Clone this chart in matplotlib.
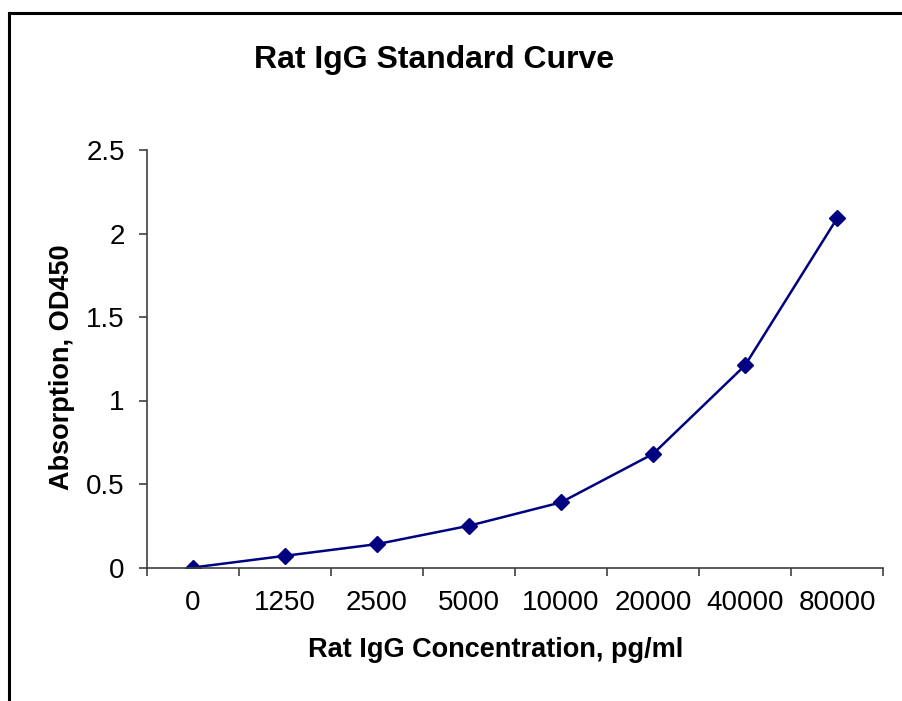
import numpy as np
import matplotlib.pyplot as plt
from matplotlib.lines import Line2D

plt.rcParams['font.family'] = ['Liberation Sans', 'DejaVu Sans']

# standard curve data
concentrations = ['0', '1250', '2500', '5000', '10000', '20000', '40000', '80000']
absorption = [0.0, 0.07, 0.14, 0.25, 0.39, 0.68, 1.21, 2.09]
y_ticks = [0, 0.5, 1, 1.5, 2, 2.5]
y_tick_labels = ['0', '0.5', '1', '1.5', '2', '2.5']

W, H = 902, 701
fig = plt.figure(figsize=(W / 100, H / 100), dpi=100)

# partial frame around the chart (left and top edges)
fig.add_artist(Line2D([9 / W, 1.0], [1 - 13 / H, 1 - 13 / H], color='black', lw=2.2))
fig.add_artist(Line2D([9 / W, 9 / W], [1 - 13 / H, 0.0], color='black', lw=2.2))

ax = fig.add_axes([147 / W, 1 - 567.5 / H, (883 - 147) / W, (567.5 - 150) / H])

x = np.arange(len(concentrations))
ax.plot(x, absorption, color='#000080', lw=1.8, marker='D', markersize=8,
        markerfacecolor='#000080', markeredgecolor='#000080')

ax.set_xlim(-0.5, len(concentrations) - 0.5)
ax.set_ylim(0, 2.5)

ax.set_yticks(y_ticks)
ax.set_yticklabels(y_tick_labels, fontsize=20)

# ticks between categories, labels at category centres
ax.set_xticks(np.arange(-0.5, len(concentrations), 1.0))
ax.set_xticklabels([])
ax.set_xticks(x, minor=True)
ax.set_xticklabels(concentrations, minor=True, fontsize=20)
ax.tick_params(axis='x', which='minor', length=0, pad=16)
ax.tick_params(axis='x', which='major', length=6, width=1.2, color='#404040', direction='out')
ax.tick_params(axis='y', length=6, width=1.2, color='#404040', direction='out', pad=10)

for s in ['top', 'right']:
    ax.spines[s].set_visible(False)
for s in ['left', 'bottom']:
    ax.spines[s].set_color('#404040')
    ax.spines[s].set_linewidth(1.2)

fig.text(434 / W, 1 - 60 / H, 'Rat IgG Standard Curve', fontsize=23, fontweight='bold',
         ha='center', va='center')
fig.text(496 / W, 1 - 650 / H, 'Rat IgG Concentration, pg/ml', fontsize=19.5, fontweight='bold',
         ha='center', va='center')
fig.text(62 / W, 1 - 367 / H, 'Absorption, OD450', fontsize=19.5, fontweight='bold',
         ha='center', va='center', rotation=90)

plt.savefig('out.png', dpi=100)
